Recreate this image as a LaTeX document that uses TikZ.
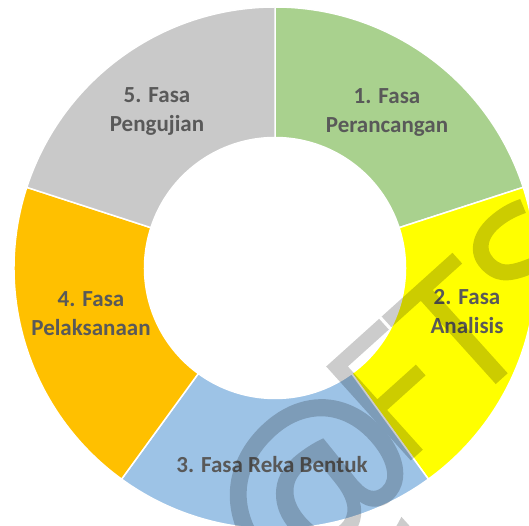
\documentclass[tikz,border=0pt]{standalone}
\usepackage{fontspec}
\usepackage{tikz}
\setmainfont{Carlito}
\newfontfamily\markfont[FakeBold=0.9]{Open Sans}

\definecolor{phaseGreen}{HTML}{A9D18E}
\definecolor{phaseYellow}{HTML}{FFFF00}
\definecolor{phaseBlue}{HTML}{9DC3E6}
\definecolor{phaseOrange}{HTML}{FFC000}
\definecolor{phaseGray}{HTML}{C9C9C9}
\definecolor{labelGray}{HTML}{595959}

\tikzset{
    ring/.style={draw=white, line width=1.5pt},
    phase/.style={font=\fontsize{23}{29}\selectfont\bfseries, text=labelGray, align=center},
    stamp/.style={font=\markfont\fontsize{175}{175}\selectfont, text=black,
                  rotate=42, inner sep=0pt},
}

\begin{document}
\begin{tikzpicture}[x=1pt,y=1pt]
            \useasboundingbox (0,0) rectangle (529,526);
            \clip (0,0) rectangle (529,526);

            % donut, 5 equal parts, starting at the top
            \begin{scope}[shift={(275,258)}]
            \foreach \a/\b/\col in {90/18/phaseGreen, 18/-54/phaseYellow, -54/-126/phaseBlue, -126/-198/phaseOrange, -198/-270/phaseGray}
                \filldraw[ring, fill=\col] (\a:261) arc[start angle=\a, end angle=\b, radius=261]
                    -- (\b:130.5) arc[start angle=\b, end angle=\a, radius=130.5] -- cycle;
            \end{scope}

            \node[phase] (p1) at (387,414) {1. Fasa\\Perancangan};
            \node[phase] (p2) at (467,214) {2. Fasa\\Analisis};
            \node[phase] (p3) at (272,61) {3. Fasa Reka Bentuk};
            \node[phase] (p4) at (91,212) {4. Fasa\\Pelaksanaan};
            \node[phase] (p5) at (157,414) {5. Fasa\\Pengujian};

            % watermark
            \begin{scope}[transparency group, opacity=0.2]
            \node[stamp, anchor=base west] (fts) at (398,55) {FTSM};
            \node[stamp, font=\markfont\fontsize{232}{232}\selectfont] (at) at (322,28) {@};
            \end{scope}
\end{tikzpicture}
\end{document}
